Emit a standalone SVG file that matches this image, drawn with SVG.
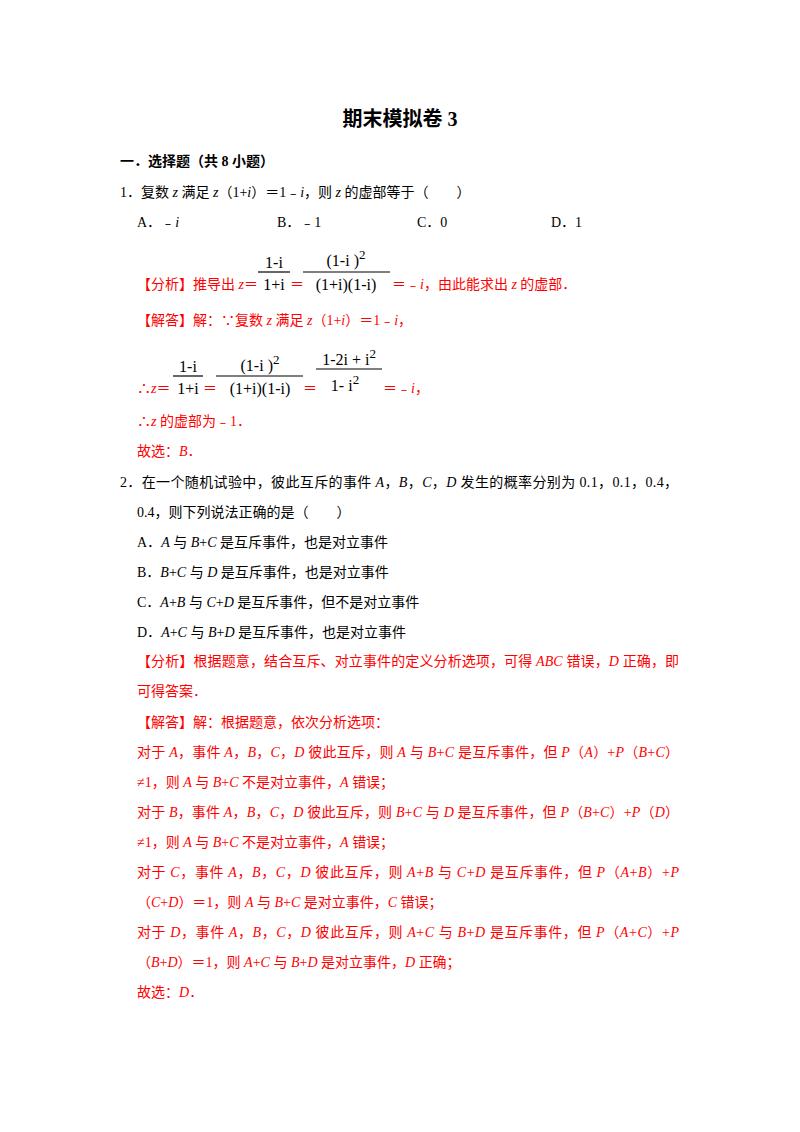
<svg xmlns="http://www.w3.org/2000/svg" width="800" height="1132" viewBox="0 0 800 1132">
<style>
text{font-family:"Liberation Serif","Noto Sans CJK SC",serif;font-size:14px;fill:#000}
.r{fill:#ff0000}
.i{font-style:italic}
text.f{font-size:16px;fill:#000}
.b{font-weight:bold}
line{stroke:#000;stroke-width:1.2}
</style>
<rect width="800" height="1132" fill="#fff"/>
<text x="400" y="126" text-anchor="middle" class="b" style="font-size:20px">期末模拟卷 3</text>
<text x="120" y="166" class="b">一．选择题（共 8 小题）</text>
<text x="120" y="197">1．复数 <tspan class="i">z</tspan> 满足 <tspan class="i">z</tspan>（1+<tspan class="i">i</tspan>）＝1﹣<tspan class="i">i</tspan>，则 <tspan class="i">z</tspan> 的虚部等于（　　）</text>
<text x="137" y="227">A．﹣<tspan class="i">i</tspan></text>
<text x="277" y="227">B．﹣1</text>
<text x="417" y="227">C．0</text>
<text x="551" y="227">D．1</text>
<g>
<text x="274" y="268" class="f" text-anchor="middle">1-i</text>
<line x1="258" y1="272" x2="290" y2="272"/>
<text x="274" y="290" class="f" text-anchor="middle">1+i</text>
<text x="346" y="266" class="f" text-anchor="middle">(1-i )<tspan dy="-7" font-size="13">2</tspan></text>
<line x1="303" y1="272" x2="390" y2="272"/>
<text x="346" y="290" class="f" text-anchor="middle">(1+i)(1-i)</text>
</g>
<text x="137" y="289" class="r">【分析】推导出 <tspan class="i">z</tspan>＝</text>
<text x="290" y="289" class="r">＝</text>
<text x="392" y="289" class="r">＝﹣<tspan class="i">i</tspan>，由此能求出 <tspan class="i">z</tspan> 的虚部．</text>
<text x="137" y="325" class="r">【解答】解：∵复数 <tspan class="i">z</tspan> 满足 <tspan class="i">z</tspan>（1+<tspan class="i">i</tspan>）＝1﹣<tspan class="i">i</tspan>，</text>
<g>
<text x="188" y="372" class="f" text-anchor="middle">1-i</text>
<line x1="173" y1="376" x2="203" y2="376"/>
<text x="188" y="394" class="f" text-anchor="middle">1+i</text>
<text x="260" y="371" class="f" text-anchor="middle">(1-i )<tspan dy="-7" font-size="13">2</tspan></text>
<line x1="216" y1="376" x2="303" y2="376"/>
<text x="260" y="394" class="f" text-anchor="middle">(1+i)(1-i)</text>
<text x="349" y="365" class="f" text-anchor="middle">1-2i + i<tspan dy="-7" font-size="13">2</tspan></text>
<line x1="316" y1="369" x2="382" y2="369"/>
<text x="345" y="391" class="f" text-anchor="middle">1- i<tspan dy="-7" font-size="13">2</tspan></text>
</g>
<text x="137" y="393" class="r">∴<tspan class="i">z</tspan>＝</text>
<text x="203" y="393" class="r">＝</text>
<text x="303" y="393" class="r">＝</text>
<text x="383" y="393" class="r"> ＝﹣<tspan class="i">i</tspan>，</text>
<text x="137" y="426" class="r">∴<tspan class="i">z</tspan> 的虚部为﹣1．</text>
<text x="137" y="456" class="r">故选：<tspan class="i">B</tspan>．</text>
<text x="120" y="487" textLength="558" lengthAdjust="spacing">2．在一个随机试验中，彼此互斥的事件 <tspan class="i">A</tspan>，<tspan class="i">B</tspan>，<tspan class="i">C</tspan>，<tspan class="i">D</tspan> 发生的概率分别为 0.1，0.1，0.4，</text>
<text x="137" y="517">0.4，则下列说法正确的是（　　）</text>
<text x="137" y="547">A．<tspan class="i">A</tspan> 与 <tspan class="i">B</tspan>+<tspan class="i">C</tspan> 是互斥事件，也是对立事件</text>
<text x="137" y="577">B．<tspan class="i">B</tspan>+<tspan class="i">C</tspan> 与 <tspan class="i">D</tspan> 是互斥事件，也是对立事件</text>
<text x="137" y="607">C．<tspan class="i">A</tspan>+<tspan class="i">B</tspan> 与 <tspan class="i">C</tspan>+<tspan class="i">D</tspan> 是互斥事件，但不是对立事件</text>
<text x="137" y="637">D．<tspan class="i">A</tspan>+<tspan class="i">C</tspan> 与 <tspan class="i">B</tspan>+<tspan class="i">D</tspan> 是互斥事件，也是对立事件</text>
<text x="137" y="666" class="r" textLength="542" lengthAdjust="spacing">【分析】根据题意，结合互斥、对立事件的定义分析选项，可得 <tspan class="i">ABC</tspan> 错误，<tspan class="i">D</tspan> 正确，即</text>
<text x="137" y="696" class="r">可得答案．</text>
<text x="137" y="727" class="r">【解答】解：根据题意，依次分析选项：</text>
<text x="137" y="757" class="r" textLength="542" lengthAdjust="spacing">对于 <tspan class="i">A</tspan>，事件 <tspan class="i">A</tspan>，<tspan class="i">B</tspan>，<tspan class="i">C</tspan>，<tspan class="i">D</tspan> 彼此互斥，则 <tspan class="i">A</tspan> 与 <tspan class="i">B</tspan>+<tspan class="i">C</tspan> 是互斥事件，但 <tspan class="i">P</tspan>（<tspan class="i">A</tspan>）+<tspan class="i">P</tspan>（<tspan class="i">B</tspan>+<tspan class="i">C</tspan>）</text>
<text x="137" y="787" class="r">≠1，则 <tspan class="i">A</tspan> 与 <tspan class="i">B</tspan>+<tspan class="i">C</tspan> 不是对立事件，<tspan class="i">A</tspan> 错误；</text>
<text x="137" y="817" class="r" textLength="542" lengthAdjust="spacing">对于 <tspan class="i">B</tspan>，事件 <tspan class="i">A</tspan>，<tspan class="i">B</tspan>，<tspan class="i">C</tspan>，<tspan class="i">D</tspan> 彼此互斥，则 <tspan class="i">B</tspan>+<tspan class="i">C</tspan> 与 <tspan class="i">D</tspan> 是互斥事件，但 <tspan class="i">P</tspan>（<tspan class="i">B</tspan>+<tspan class="i">C</tspan>）+<tspan class="i">P</tspan>（<tspan class="i">D</tspan>）</text>
<text x="137" y="847" class="r">≠1，则 <tspan class="i">A</tspan> 与 <tspan class="i">B</tspan>+<tspan class="i">C</tspan> 不是对立事件，<tspan class="i">A</tspan> 错误；</text>
<text x="137" y="877" class="r" textLength="542" lengthAdjust="spacing">对于 <tspan class="i">C</tspan>，事件 <tspan class="i">A</tspan>，<tspan class="i">B</tspan>，<tspan class="i">C</tspan>，<tspan class="i">D</tspan> 彼此互斥，则 <tspan class="i">A</tspan>+<tspan class="i">B</tspan> 与 <tspan class="i">C</tspan>+<tspan class="i">D</tspan> 是互斥事件，但 <tspan class="i">P</tspan>（<tspan class="i">A</tspan>+<tspan class="i">B</tspan>）+<tspan class="i">P</tspan></text>
<text x="137" y="907" class="r">（<tspan class="i">C</tspan>+<tspan class="i">D</tspan>）＝1，则 <tspan class="i">A</tspan> 与 <tspan class="i">B</tspan>+<tspan class="i">C</tspan> 是对立事件，<tspan class="i">C</tspan> 错误；</text>
<text x="137" y="937" class="r" textLength="542" lengthAdjust="spacing">对于 <tspan class="i">D</tspan>，事件 <tspan class="i">A</tspan>，<tspan class="i">B</tspan>，<tspan class="i">C</tspan>，<tspan class="i">D</tspan> 彼此互斥，则 <tspan class="i">A</tspan>+<tspan class="i">C</tspan> 与 <tspan class="i">B</tspan>+<tspan class="i">D</tspan> 是互斥事件，但 <tspan class="i">P</tspan>（<tspan class="i">A</tspan>+<tspan class="i">C</tspan>）+<tspan class="i">P</tspan></text>
<text x="137" y="967" class="r">（<tspan class="i">B</tspan>+<tspan class="i">D</tspan>）＝1，则 <tspan class="i">A</tspan>+<tspan class="i">C</tspan> 与 <tspan class="i">B</tspan>+<tspan class="i">D</tspan> 是对立事件，<tspan class="i">D</tspan> 正确；</text>
<text x="137" y="997" class="r">故选：<tspan class="i">D</tspan>．</text>
</svg>
